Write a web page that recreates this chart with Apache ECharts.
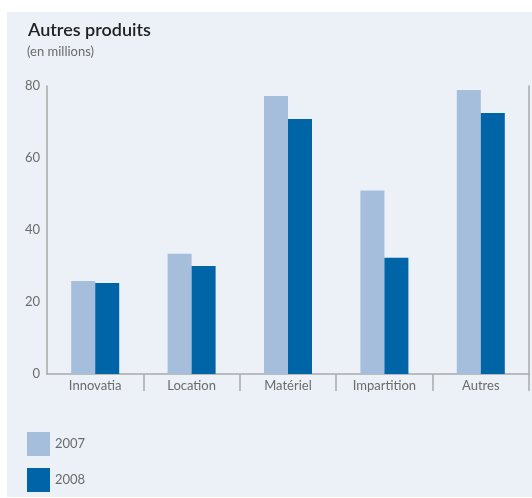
<!DOCTYPE html>
<html>
<head>
<meta charset="utf-8">
<script src="https://cdn.jsdelivr.net/npm/echarts@6/dist/echarts.min.js"></script>
<style>
  html, body { margin: 0; padding: 0; background: #fff; }
  #chart { width: 532px; height: 498px; }
</style>
</head>
<body>
<div id="chart"></div>
<script>
// chart data
var categories = ['Innovatia', 'Location', 'Matériel', 'Impartition', 'Autres']
var seriesNames = ['2007', '2008']
var values2007 = [25.8, 33.4, 77.2, 51.0, 78.9]
var values2008 = [25.3, 30.0, 70.8, 32.3, 72.5]
var colors = ['#a4bedc', '#0065a6']

var chart = echarts.init(document.getElementById('chart'))
var textGray = '#6b6b6b'
var axisGray = '#a9a9a9'

var option = {
  animation: false,
  graphic: [
    {
      type: 'rect',
      z: -10,
      shape: { x: 7, y: 12, width: 525, height: 485 },
      style: { fill: '#ecf1f8' }
    },
    {
      type: 'text',
      left: 28,
      top: 21,
      style: { text: 'Autres produits', fill: '#222', font: '600 18px Lato' }
    },
    {
      type: 'text',
      left: 27,
      top: 45,
      style: { text: '(en millions)', fill: textGray, font: '13px Lato' }
    }
  ],
  legend: {
    data: seriesNames,
    orient: 'vertical',
    left: 27,
    top: 432,
    padding: 0,
    icon: 'rect',
    itemWidth: 23,
    itemHeight: 24,
    itemGap: 12,
    textStyle: { color: textGray, fontSize: 13, fontFamily: 'Lato' }
  },
  grid: {
    top: 86,
    left: 47,
    right: 3,
    bottom: 124
  },
  xAxis: {
    type: 'category',
    data: categories,
    axisLine: { show: true, lineStyle: { color: axisGray, width: 1.5 } },
    axisTick: {
      show: true,
      length: 17,
      interval: function (i) { return i > 0 },
      lineStyle: { color: axisGray, width: 1.5 }
    },
    axisLabel: { color: textGray, fontSize: 13, fontFamily: 'Lato', margin: 5 },
    splitLine: { show: false }
  },
  yAxis: [
    {
      type: 'value',
      min: 0,
      max: 80,
      interval: 20,
      axisLine: { show: true, lineStyle: { color: axisGray, width: 1.5 } },
      axisTick: { show: false },
      axisLabel: { color: textGray, fontSize: 13, fontFamily: 'Lato', margin: 7 },
      splitLine: { show: false }
    },
    {
      type: 'value',
      position: 'right',
      min: 0,
      max: 80,
      interval: 20,
      axisLine: { show: true, lineStyle: { color: axisGray, width: 1.5 } },
      axisTick: { show: false },
      axisLabel: { show: false },
      splitLine: { show: false }
    }
  ],
  series: [
    {
      name: seriesNames[0],
      type: 'bar',
      data: values2007,
      barWidth: 24,
      barGap: 0,
      itemStyle: { color: colors[0] }
    },
    {
      name: seriesNames[1],
      type: 'bar',
      data: values2008,
      barWidth: 24,
      barGap: 0,
      itemStyle: { color: colors[1] }
    }
  ]
}
chart.setOption(option)
</script>
</body>
</html>
